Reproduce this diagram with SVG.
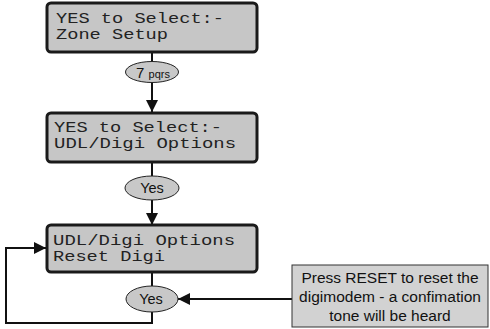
<svg xmlns="http://www.w3.org/2000/svg" width="490" height="329" viewBox="0 0 490 329">
<defs>
<style>
.lcd{fill:#c6c6c6;stroke:#1a1a1a;stroke-width:3}
.lt{font-family:"Liberation Mono","DejaVu Sans Mono",monospace;font-size:14px;fill:#222}
.oval{fill:#c8c8c8;stroke:#222;stroke-width:1}
.ot{font-family:"Liberation Sans",Arial,sans-serif;fill:#111;text-anchor:middle}
.ln{fill:none;stroke:#111;stroke-width:2}
.note{fill:#d2d2d2;stroke:#333;stroke-width:1}
.nt{font-family:"Liberation Sans",Arial,sans-serif;font-size:15.5px;fill:#111;text-anchor:middle}
</style>
<marker id="ah" viewBox="0 0 12 12" refX="12" refY="6" markerWidth="12" markerHeight="12" markerUnits="userSpaceOnUse" orient="auto">
<path d="M0,0 L12,6 L0,12 Z" fill="#111"/>
</marker>
</defs>
<g id="connectors">
<line class="ln" x1="152" y1="52" x2="152" y2="62"/>
<line class="ln" x1="152" y1="82" x2="152" y2="112" marker-end="url(#ah)"/>
<line class="ln" x1="152" y1="162" x2="152" y2="177"/>
<line class="ln" x1="152" y1="200" x2="152" y2="225" marker-end="url(#ah)"/>
<line class="ln" x1="152" y1="272" x2="152" y2="286"/>
<polyline class="ln" points="152,312 152,323 6,323 6,248 46,248" marker-end="url(#ah)"/>
<line class="ln" x1="292" y1="299" x2="178" y2="299" marker-end="url(#ah)"/>
</g>
<g id="box1">
<rect class="lcd" x="47" y="3" width="210" height="49" rx="4"/>
<text class="lt" x="56" y="23" textLength="168" lengthAdjust="spacingAndGlyphs">YES to Select:-</text>
<text class="lt" x="56" y="39" textLength="112" lengthAdjust="spacingAndGlyphs">Zone Setup</text>
</g>
<g id="key7">
<ellipse class="oval" cx="152" cy="72" rx="26.5" ry="10.5"/>
<text class="ot" x="153" y="78"><tspan font-size="15">7 </tspan><tspan font-size="11">pqrs</tspan></text>
</g>
<g id="box2">
<rect class="lcd" x="47" y="113" width="210" height="49" rx="4"/>
<text class="lt" x="54" y="132" textLength="168" lengthAdjust="spacingAndGlyphs">YES to Select:-</text>
<text class="lt" x="54" y="148" textLength="182" lengthAdjust="spacingAndGlyphs">UDL/Digi Options</text>
</g>
<g id="yes1">
<ellipse class="oval" cx="152" cy="188" rx="27" ry="12"/>
<text class="ot" x="152" y="193" font-size="14.5">Yes</text>
</g>
<g id="box3">
<rect class="lcd" x="47" y="225" width="210" height="47" rx="4"/>
<text class="lt" x="53" y="245" textLength="182" lengthAdjust="spacingAndGlyphs">UDL/Digi Options</text>
<text class="lt" x="53" y="261" textLength="112" lengthAdjust="spacingAndGlyphs">Reset Digi</text>
</g>
<g id="yes2">
<ellipse class="oval" cx="152" cy="299" rx="26" ry="13"/>
<text class="ot" x="151" y="304" font-size="14.5">Yes</text>
</g>
<g id="note">
<rect class="note" x="292" y="265" width="196" height="62"/>
<text class="nt" x="390" y="283">Press RESET to reset the</text>
<text class="nt" x="390" y="302">digimodem - a confimation</text>
<text class="nt" x="390" y="321">tone will be heard</text>
</g>
</svg>
